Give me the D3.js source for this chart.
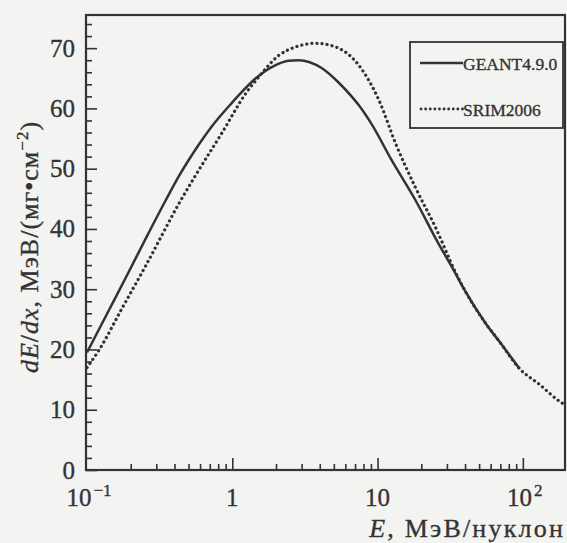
<!DOCTYPE html>
<html><head><meta charset="utf-8">
<script src="https://cdn.jsdelivr.net/npm/d3@7"></script>
<style>
html,body{margin:0;padding:0;background:#f3f3f1;}
svg{display:block;font-family:"Liberation Serif","Times New Roman",serif;}
</style></head>
<body>
<svg id="c" width="567" height="543"></svg>
<script>
// ---- data ----
const geantE = [0.1, 0.14, 0.194, 0.25, 0.349, 0.43, 0.5, 0.6, 0.722, 1.0, 1.16, 1.45, 1.99, 2.44, 2.86, 4.12, 5.39, 6.62, 7.39, 9.1, 12.5, 18.2, 26.2, 32.3, 40.3, 55.2, 70, 95];
const geantV = [19.5, 26.3, 32.9, 38.1, 44.8, 48.8, 51.4, 54.3, 57.0, 61.0, 62.7, 65.0, 67.2, 67.9, 68.0, 66.7, 64.3, 62.0, 60.6, 57.4, 51.4, 44.8, 37.6, 33.8, 29.6, 24.4, 21.1, 16.8];
const srimE = [0.1, 0.121, 0.174, 0.255, 0.429, 0.543, 0.847, 1.24, 1.52, 2.09, 2.73, 3.75, 5.14, 7.06, 10.2, 13.3, 18.2, 25, 34.4, 40.3, 55.2, 70, 95, 130, 181, 195];
const srimV = [17.0, 19.9, 26.8, 34.0, 44.2, 48.4, 55.9, 62.5, 65.2, 68.8, 70.2, 70.8, 70.2, 67.8, 61.4, 54.2, 46.9, 40.3, 32.8, 29.6, 24.4, 21.1, 16.8, 14.2, 11.3, 10.8];
const seriesNames = ["GEANT4.9.0", "SRIM2006"];
const yTickValues = [0, 10, 20, 30, 40, 50, 60, 70];
const xMajorTicks = [0.1, 1, 10, 100];
const xTickLabels = [["10", "\u22121"], ["1", ""], ["10", ""], ["10", "2"]];

// ---- layout ----
const L = 86, R = 565, T = 15, B = 470;
const ink = "#333333";
const svg = d3.select("#c");
const x = d3.scaleLog().domain([0.1, 195]).range([L + 1, R]);
const y = d3.scaleLinear().domain([0, 75.5]).range([B, T]);

// minor ticks
const xMinor = [];
[0.1, 1, 10, 100].forEach(d => { for (let k = 2; k <= 9; k++) { const v = d * k; if (v < 195) xMinor.push(v); } });
const yMinor = d3.range(0, 76, 2).filter(v => v % 10 !== 0);

const g = svg.append("g");
g.append("g").attr("transform", `translate(0,${B})`)
  .call(d3.axisTop(x).tickValues(xMinor).tickSize(6).tickFormat(""))
  .call(a => a.select(".domain").remove());
g.append("g").attr("transform", `translate(0,${B})`)
  .call(d3.axisTop(x).tickValues(xMajorTicks.slice(1)).tickSize(12).tickFormat(""))
  .call(a => a.select(".domain").remove());
g.append("g").attr("transform", `translate(${L},0)`)
  .call(d3.axisRight(y).tickValues(yMinor).tickSize(6).tickFormat(""))
  .call(a => a.select(".domain").remove());
g.append("g").attr("transform", `translate(${L},0)`)
  .call(d3.axisRight(y).tickValues(yTickValues).tickSize(11).tickFormat(""))
  .call(a => a.select(".domain").remove());
g.selectAll(".tick line").attr("stroke", ink).attr("stroke-width", 1.6);

// frame
svg.append("rect").attr("x", L).attr("y", T).attr("width", R - L).attr("height", B - T)
  .attr("fill", "none").attr("stroke", ink).attr("stroke-width", 2.2);

const txt = sel => sel.attr("fill", ink).attr("stroke", ink).attr("stroke-width", 0.35);

// y tick labels
svg.append("g").selectAll("text").data(yTickValues).join("text")
  .attr("x", L - 11).attr("y", d => y(d) + 8.5)
  .attr("text-anchor", "end").attr("font-size", 25).call(txt)
  .text(d => d);

// x tick labels
const xl = svg.append("g").selectAll("text").data(xMajorTicks).join("text")
  .attr("y", 506).attr("font-size", 25).call(txt)
  .attr("text-anchor", "middle")
  .attr("x", (d, i) => x(d) + (xTickLabels[i][1] ? 2 : 0));
xl.each(function(d, i) {
  const t = d3.select(this);
  t.append("tspan").text(xTickLabels[i][0]);
  if (xTickLabels[i][1]) t.append("tspan").attr("dy", -10).attr("font-size", 17).attr("dx", 2).text(xTickLabels[i][1]);
});

// axis titles
const xt = svg.append("text").attr("x", R).attr("y", 537).attr("text-anchor", "end")
  .attr("font-size", 26).attr("letter-spacing", 2.2).call(txt);
xt.append("tspan").attr("font-style", "italic").text("E");
xt.append("tspan").text(", МэВ/нуклон");

const yt = svg.append("text").attr("transform", "translate(38,247) rotate(-90)")
  .attr("text-anchor", "middle").attr("font-size", 26).attr("letter-spacing", 1).call(txt);
yt.append("tspan").attr("font-style", "italic").text("dE");
yt.append("tspan").text("/");
yt.append("tspan").attr("font-style", "italic").text("dx");
yt.append("tspan").text(", МэВ/(мг•см");
yt.append("tspan").attr("dy", -10).attr("font-size", 17).text("\u22122");
yt.append("tspan").attr("dy", 10).text(")");

// curves
const line = d3.line().x(d => x(d[0])).y(d => y(d[1])).curve(d3.curveMonotoneX);
svg.append("clipPath").attr("id", "pc").append("rect")
  .attr("x", L).attr("y", T).attr("width", R - L).attr("height", B - T);
svg.append("path").datum(d3.zip(srimE, srimV)).attr("d", line)
  .attr("clip-path", "url(#pc)")
  .attr("fill", "none").attr("stroke", ink).attr("stroke-width", 3.2)
  .attr("stroke-linecap", "round").attr("stroke-dasharray", "0.1,5");
svg.append("path").datum(d3.zip(geantE, geantV)).attr("d", line)
  .attr("clip-path", "url(#pc)")
  .attr("fill", "none").attr("stroke", ink).attr("stroke-width", 2.5);

// legend
const lg = svg.append("g");
lg.append("rect").attr("x", 410).attr("y", 42).attr("width", 153).attr("height", 86)
  .attr("fill", "#f3f3f1").attr("stroke", ink).attr("stroke-width", 1.8);
const ly = [63, 109];
lg.append("line").attr("x1", 420).attr("x2", 463).attr("y1", ly[0]).attr("y2", ly[0])
  .attr("stroke", ink).attr("stroke-width", 2.5);
lg.append("line").attr("x1", 421).attr("x2", 463).attr("y1", ly[1]).attr("y2", ly[1])
  .attr("stroke", ink).attr("stroke-width", 2.8).attr("stroke-linecap", "round").attr("stroke-dasharray", "0.1,4.5");
lg.selectAll("text.l").data(seriesNames).join("text").attr("class", "l")
  .attr("x", 463).attr("y", (d, i) => ly[i] + 6.5).attr("font-size", 17.5).call(txt)
  .text(d => d);
</script>
</body></html>
